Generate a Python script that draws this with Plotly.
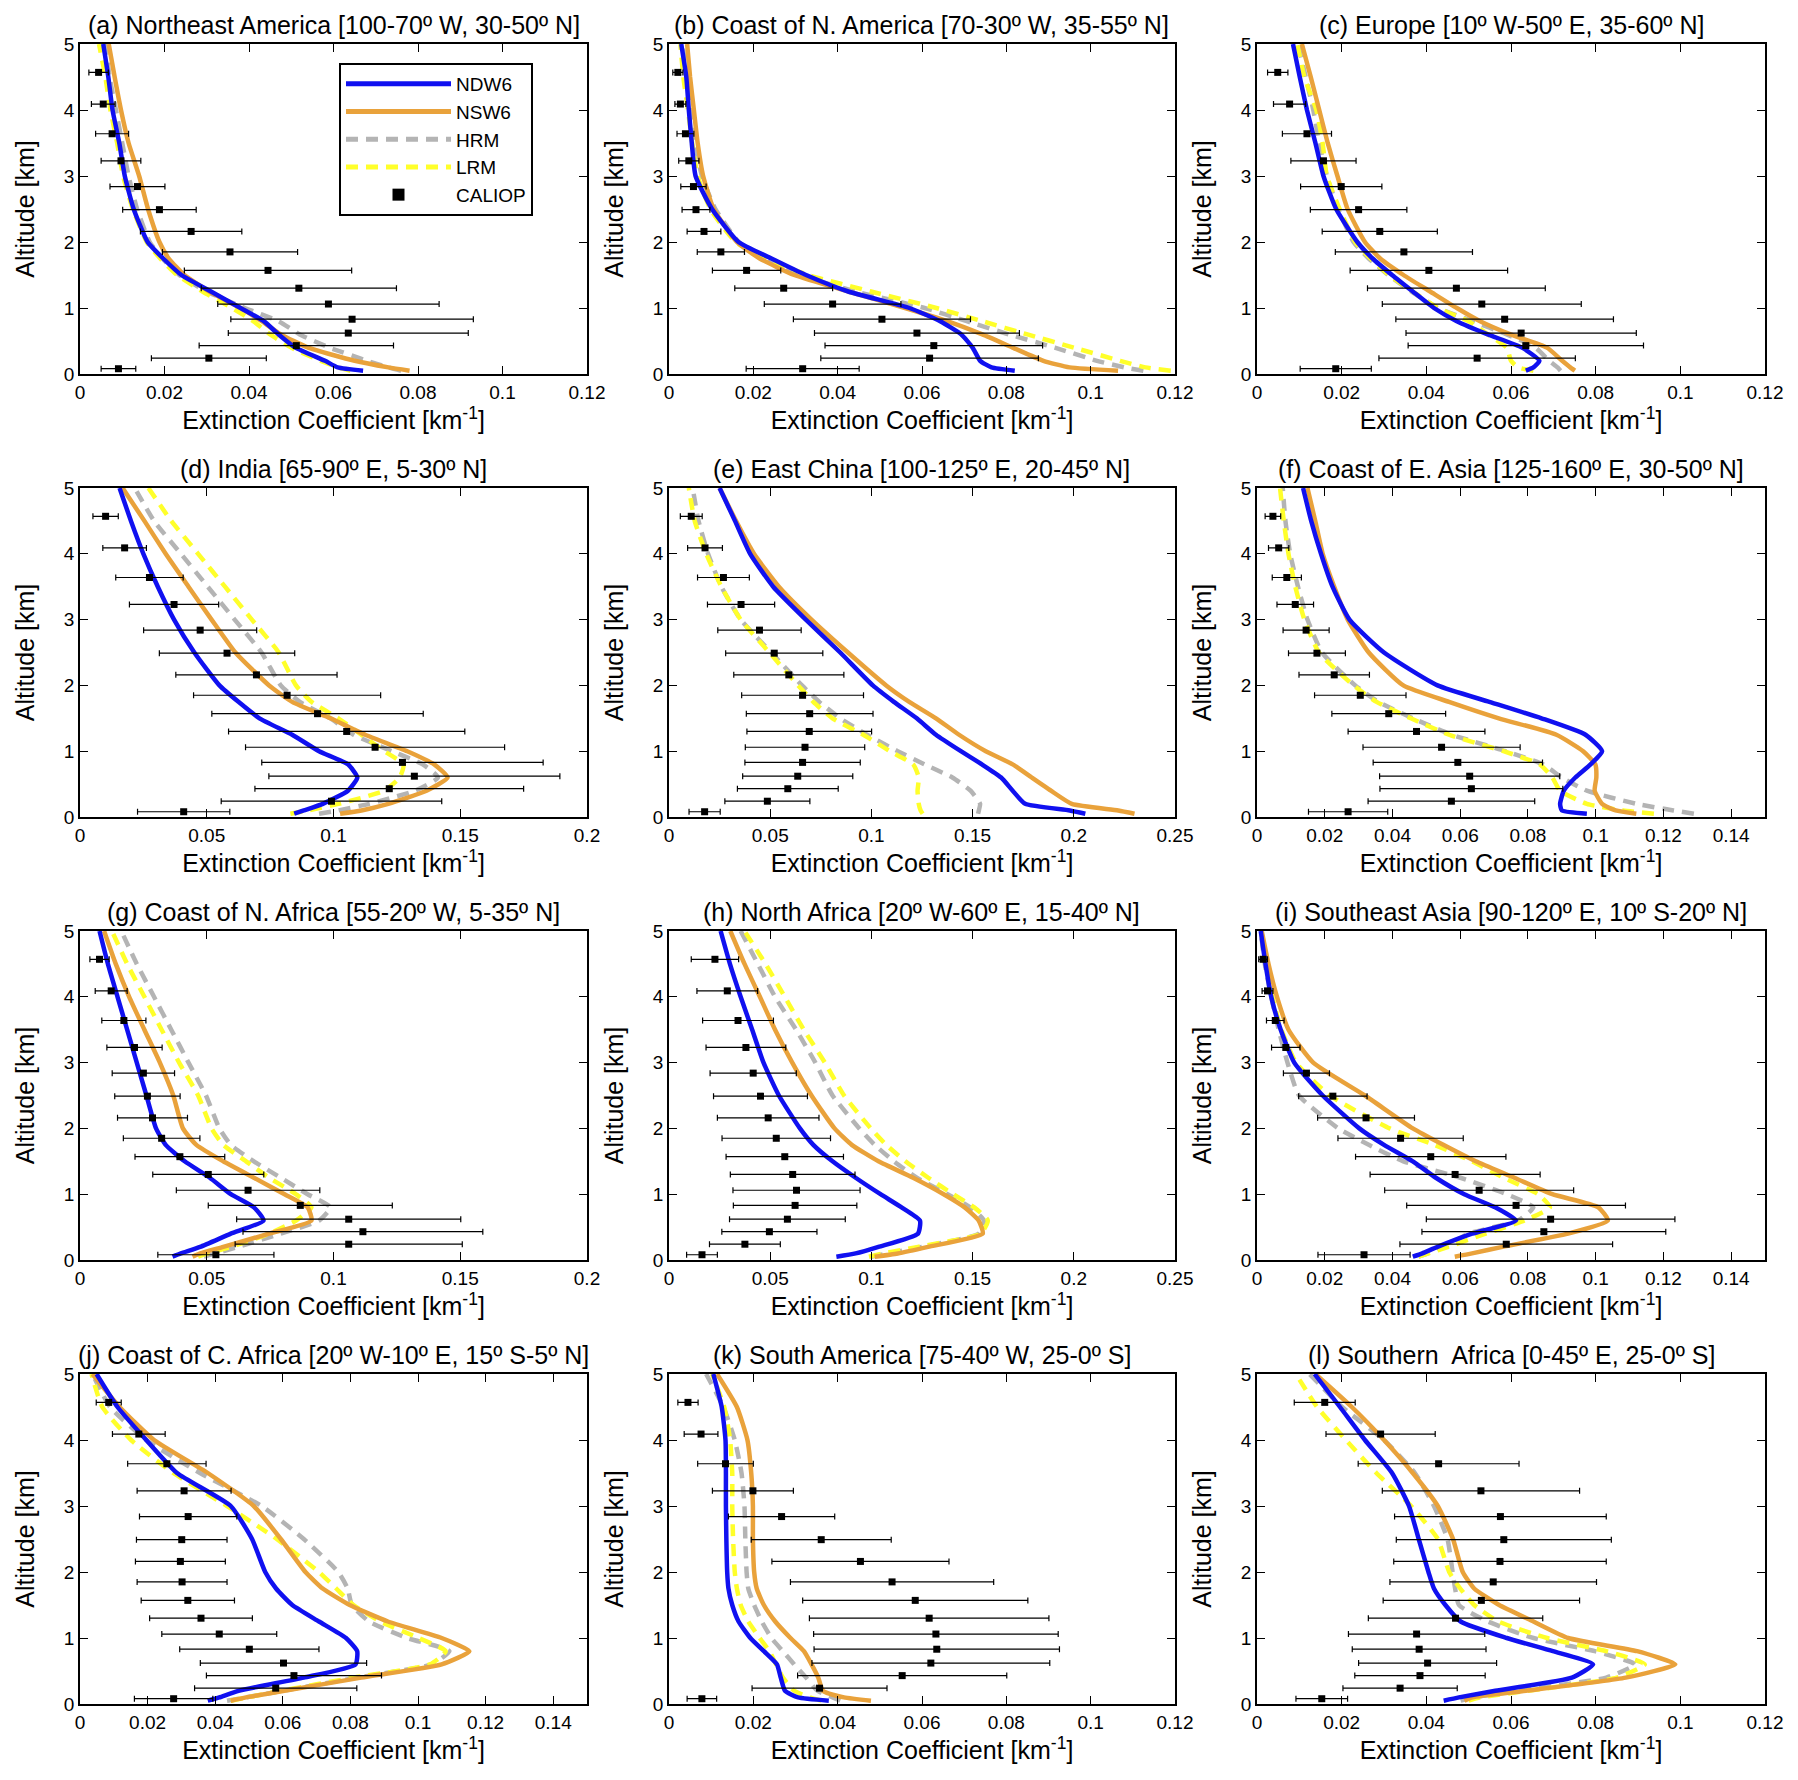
import plotly.graph_objects as go

# altitude grid of the model profiles [km], bottom -> top
ALT_MODEL = [0.05, 0.1, 0.2, 0.4, 0.6, 0.8, 1.0, 1.25, 1.5, 1.75, 2.0, 2.5, 3.0, 3.5, 4.0, 4.5, 5.0]
# CALIOP levels [km], top -> bottom
ALT_CALIOP = [4.57, 4.09, 3.64, 3.23, 2.84, 2.49, 2.16, 1.85, 1.57, 1.30, 1.06, 0.83, 0.62, 0.43, 0.24, 0.08]

# (a) Northeast America
ndw6_a = [0.067, 0.061, 0.058, 0.051, 0.047, 0.0435, 0.038, 0.031, 0.024, 0.0197, 0.016, 0.0127, 0.0106, 0.0093, 0.0077, 0.0067, 0.0055]
nsw6_a = [0.078, 0.073, 0.065, 0.054, 0.0475, 0.043, 0.038, 0.0306, 0.0247, 0.021, 0.0188, 0.0161, 0.014, 0.0115, 0.0097, 0.0082, 0.0068]
hrm_a = [0.076, 0.073, 0.068, 0.059, 0.052, 0.047, 0.039, 0.030, 0.0235, 0.0195, 0.0165, 0.0135, 0.0115, 0.0100, 0.0085, 0.007, 0.006]
lrm_a = [0.064, 0.061, 0.057, 0.050, 0.045, 0.041, 0.036, 0.029, 0.023, 0.019, 0.0158, 0.0125, 0.0102, 0.0088, 0.0072, 0.006, 0.0045]
caliop_a = [0.0044, 0.0055, 0.0076, 0.0097, 0.0136, 0.0188, 0.0263, 0.0355, 0.0445, 0.0518, 0.0588, 0.0644, 0.0635, 0.0512, 0.0305, 0.0091]
err_a = [0.0023, 0.0028, 0.0039, 0.0047, 0.0065, 0.0087, 0.012, 0.016, 0.0198, 0.0231, 0.0262, 0.0287, 0.0284, 0.023, 0.0136, 0.0041]

# (b) Coast of N. America
ndw6_b = [0.082, 0.0765, 0.0738, 0.072, 0.0693, 0.0643, 0.057, 0.0425, 0.0325, 0.0243, 0.0165, 0.0102, 0.0063, 0.0054, 0.0047, 0.0041, 0.0029]
nsw6_b = [0.1065, 0.095, 0.0888, 0.0815, 0.0743, 0.066, 0.056, 0.0425, 0.0297, 0.0215, 0.0161, 0.0106, 0.0081, 0.0068, 0.0059, 0.005, 0.0043]
hrm_b = [0.1125, 0.108, 0.1015, 0.0915, 0.0806, 0.0706, 0.0606, 0.0443, 0.031, 0.022, 0.0165, 0.011, 0.0078, 0.0062, 0.0052, 0.0042, 0.0032]
lrm_b = [0.119, 0.113, 0.107, 0.096, 0.085, 0.0743, 0.0634, 0.0479, 0.033, 0.023, 0.0158, 0.0098, 0.0068, 0.0055, 0.0045, 0.0034, 0.0027]
caliop_b = [0.0021, 0.0027, 0.0039, 0.0047, 0.0058, 0.0064, 0.0083, 0.0123, 0.0184, 0.0272, 0.0388, 0.0505, 0.0588, 0.0628, 0.0618, 0.0317]
err_b = [0.0012, 0.0013, 0.002, 0.0024, 0.003, 0.0033, 0.004, 0.0056, 0.0081, 0.0116, 0.0162, 0.021, 0.0243, 0.0258, 0.0258, 0.0134]

# (c) Europe
ndw6_c = [0.0635, 0.0653, 0.0667, 0.0626, 0.0545, 0.0472, 0.0418, 0.0368, 0.0319, 0.0273, 0.0237, 0.0187, 0.0157, 0.0138, 0.0118, 0.0101, 0.0085]
nsw6_c = [0.0751, 0.074, 0.0721, 0.0685, 0.0599, 0.0527, 0.0472, 0.0409, 0.0346, 0.0291, 0.0255, 0.0214, 0.019, 0.0167, 0.0147, 0.0127, 0.0106]
hrm_c = [0.0717, 0.071, 0.069, 0.0658, 0.059, 0.0509, 0.0427, 0.0365, 0.031, 0.0264, 0.0228, 0.0192, 0.0165, 0.0147, 0.0133, 0.0115, 0.0097]
lrm_c = [0.0653, 0.0617, 0.06, 0.059, 0.0545, 0.05, 0.0427, 0.0368, 0.0312, 0.0268, 0.0232, 0.0195, 0.0165, 0.0155, 0.014, 0.0112, 0.0095]
caliop_c = [0.0049, 0.0077, 0.0118, 0.0157, 0.0199, 0.024, 0.029, 0.0347, 0.0406, 0.0471, 0.0531, 0.0585, 0.0624, 0.0635, 0.052, 0.0186]
err_c = [0.0024, 0.0038, 0.0058, 0.0077, 0.0096, 0.0114, 0.0136, 0.0162, 0.0186, 0.021, 0.0235, 0.0257, 0.0272, 0.0278, 0.0232, 0.0084]

# (d) India
ndw6_d = [0.0845, 0.0883, 0.0958, 0.1057, 0.1094, 0.1057, 0.0943, 0.0837, 0.0708, 0.0625, 0.055, 0.0451, 0.0371, 0.0307, 0.025, 0.0201, 0.0156]
nsw6_d = [0.1026, 0.111, 0.1216, 0.1367, 0.145, 0.1397, 0.1291, 0.1125, 0.0988, 0.0837, 0.0746, 0.0613, 0.0519, 0.0428, 0.0338, 0.0254, 0.0168]
hrm_d = [0.0943, 0.1019, 0.114, 0.1322, 0.1412, 0.1352, 0.123, 0.1079, 0.0988, 0.0867, 0.0792, 0.0716, 0.061, 0.0504, 0.0398, 0.0292, 0.0216]
lrm_d = [0.083, 0.0898, 0.102, 0.12, 0.1261, 0.1276, 0.12, 0.111, 0.1019, 0.0913, 0.0852, 0.0784, 0.0678, 0.0572, 0.0466, 0.036, 0.027]
caliop_d = [0.0101, 0.0176, 0.0274, 0.0371, 0.0474, 0.058, 0.0696, 0.0817, 0.0937, 0.1052, 0.1164, 0.1272, 0.1319, 0.122, 0.0992, 0.0409]
err_d = [0.005, 0.0086, 0.0133, 0.0176, 0.0223, 0.0267, 0.0318, 0.0369, 0.0417, 0.0466, 0.0511, 0.0555, 0.0574, 0.053, 0.0435, 0.0182]

# (e) East China
ndw6_e = [0.2057, 0.198, 0.176, 0.1698, 0.1641, 0.1546, 0.1442, 0.1319, 0.1224, 0.1111, 0.1007, 0.0846, 0.0676, 0.0515, 0.0401, 0.0326, 0.025]
nsw6_e = [0.23, 0.222, 0.199, 0.1887, 0.1792, 0.1698, 0.1565, 0.1433, 0.1319, 0.1187, 0.1073, 0.0884, 0.0704, 0.0543, 0.042, 0.0331, 0.025]
hrm_e = [0.1527, 0.1531, 0.1537, 0.149, 0.140, 0.1262, 0.113, 0.0978, 0.0846, 0.0742, 0.0657, 0.0505, 0.0354, 0.0259, 0.0193, 0.0146, 0.0117]
lrm_e = [0.1253, 0.1243, 0.1234, 0.1228, 0.1234, 0.1206, 0.1092, 0.096, 0.0808, 0.0713, 0.0638, 0.0496, 0.0354, 0.0259, 0.0184, 0.0127, 0.0098]
caliop_e = [0.011, 0.0178, 0.0269, 0.0356, 0.0447, 0.052, 0.0592, 0.066, 0.0695, 0.0693, 0.0672, 0.066, 0.0636, 0.0587, 0.0486, 0.0176]
err_e = [0.0054, 0.0086, 0.0128, 0.0166, 0.0206, 0.024, 0.0272, 0.0301, 0.0313, 0.0308, 0.0295, 0.0285, 0.0272, 0.0249, 0.021, 0.0077]

# (f) Coast of E. Asia
ndw6_f = [0.0974, 0.09, 0.0895, 0.0906, 0.094, 0.0985, 0.1019, 0.097, 0.084, 0.0686, 0.0533, 0.0375, 0.0273, 0.0223, 0.0189, 0.016, 0.0136]
nsw6_f = [0.112, 0.1059, 0.1019, 0.0997, 0.1002, 0.0999, 0.0963, 0.0884, 0.0714, 0.0567, 0.0432, 0.033, 0.0268, 0.0228, 0.0194, 0.0172, 0.0149]
hrm_f = [0.129, 0.123, 0.112, 0.0974, 0.09, 0.0845, 0.0735, 0.0575, 0.046, 0.0358, 0.029, 0.0192, 0.0149, 0.0121, 0.0098, 0.0084, 0.0076]
lrm_f = [0.1172, 0.108, 0.0974, 0.0895, 0.0872, 0.0835, 0.0728, 0.0567, 0.0454, 0.0353, 0.0285, 0.0183, 0.014, 0.0113, 0.0093, 0.0079, 0.0068]
caliop_f = [0.0047, 0.0064, 0.0088, 0.0113, 0.0145, 0.0177, 0.0228, 0.0305, 0.0389, 0.0471, 0.0545, 0.0593, 0.0628, 0.0633, 0.0574, 0.0269]
err_f = [0.0023, 0.003, 0.0043, 0.0054, 0.0068, 0.0084, 0.0104, 0.0135, 0.0168, 0.0202, 0.0232, 0.025, 0.0266, 0.027, 0.0246, 0.0117]

# (g) Coast of N. Africa
ndw6_g = [0.0365, 0.0398, 0.0474, 0.0595, 0.0724, 0.0686, 0.0595, 0.0512, 0.0413, 0.0338, 0.03, 0.0262, 0.0224, 0.0186, 0.0148, 0.011, 0.0077]
nsw6_g = [0.0444, 0.0474, 0.0565, 0.0746, 0.0913, 0.0898, 0.0807, 0.0686, 0.0565, 0.0459, 0.0406, 0.0368, 0.0315, 0.0254, 0.0194, 0.0141, 0.0095]
hrm_g = [0.0489, 0.0534, 0.0625, 0.0792, 0.0943, 0.0988, 0.0898, 0.0792, 0.0686, 0.0595, 0.055, 0.0497, 0.0428, 0.036, 0.0292, 0.0224, 0.0163]
lrm_g = [0.0466, 0.0504, 0.0595, 0.0746, 0.0852, 0.0913, 0.0852, 0.0746, 0.0655, 0.0565, 0.0519, 0.0466, 0.0391, 0.0322, 0.0254, 0.0186, 0.0126]
caliop_g = [0.0077, 0.0123, 0.0173, 0.0215, 0.025, 0.0266, 0.0286, 0.0322, 0.0394, 0.0506, 0.0663, 0.0869, 0.106, 0.1116, 0.106, 0.0536]
err_g = [0.0038, 0.0063, 0.0087, 0.0109, 0.0123, 0.0129, 0.0138, 0.0151, 0.0177, 0.0219, 0.0283, 0.0363, 0.0442, 0.0473, 0.0448, 0.0229]

# (h) North Africa
ndw6_h = [0.0827, 0.0922, 0.1035, 0.123, 0.124, 0.1149, 0.1045, 0.0922, 0.0808, 0.0713, 0.0647, 0.0543, 0.0467, 0.0411, 0.0354, 0.0301, 0.0255]
nsw6_h = [0.1016, 0.113, 0.128, 0.155, 0.153, 0.1461, 0.1357, 0.1206, 0.1035, 0.0903, 0.0818, 0.0704, 0.0609, 0.0524, 0.0449, 0.0373, 0.0303]
hrm_h = [0.0997, 0.108, 0.125, 0.153, 0.1556, 0.1489, 0.1376, 0.1224, 0.1111, 0.1016, 0.094, 0.0808, 0.0723, 0.0628, 0.0524, 0.0439, 0.0354]
lrm_h = [0.0988, 0.106, 0.123, 0.154, 0.1575, 0.1508, 0.1404, 0.1281, 0.1168, 0.1073, 0.0997, 0.0865, 0.077, 0.0666, 0.0572, 0.0477, 0.0373]
caliop_h = [0.0227, 0.0288, 0.0341, 0.038, 0.0416, 0.0452, 0.049, 0.053, 0.0572, 0.0611, 0.063, 0.0623, 0.0585, 0.0496, 0.0375, 0.0163]
err_h = [0.0117, 0.015, 0.0175, 0.0197, 0.0213, 0.0232, 0.0251, 0.0268, 0.029, 0.0308, 0.0314, 0.0305, 0.0286, 0.0235, 0.0175, 0.0076]

# (i) Southeast Asia
ndw6_i = [0.046, 0.0488, 0.0533, 0.0635, 0.0765, 0.0703, 0.0612, 0.0528, 0.046, 0.0375, 0.0302, 0.0194, 0.011, 0.007, 0.0042, 0.0025, 0.0011]
nsw6_i = [0.0584, 0.0635, 0.0725, 0.0918, 0.1036, 0.1008, 0.0872, 0.076, 0.0646, 0.055, 0.046, 0.0319, 0.0166, 0.0093, 0.0059, 0.0034, 0.0014]
hrm_i = [0.0477, 0.0505, 0.0556, 0.0624, 0.0771, 0.0816, 0.0737, 0.0601, 0.0432, 0.033, 0.024, 0.0124, 0.009, 0.0064, 0.0042, 0.0023, 0.0011]
lrm_i = [0.0477, 0.0505, 0.0565, 0.0675, 0.079, 0.0865, 0.083, 0.0728, 0.0635, 0.0524, 0.0392, 0.0215, 0.0115, 0.0072, 0.0045, 0.0027, 0.0012]
caliop_i = [0.0018, 0.0031, 0.0054, 0.0085, 0.0146, 0.0224, 0.0322, 0.0424, 0.0513, 0.0585, 0.0656, 0.0765, 0.0867, 0.0847, 0.0736, 0.0316]
err_i = [0.0013, 0.0016, 0.0026, 0.0042, 0.0068, 0.0101, 0.0143, 0.0185, 0.0222, 0.0251, 0.0279, 0.0323, 0.0367, 0.036, 0.0314, 0.0136]

# (j) Coast of C. Africa
ndw6_j = [0.0378, 0.0412, 0.0469, 0.0662, 0.0815, 0.082, 0.0787, 0.0707, 0.0628, 0.058, 0.0548, 0.0509, 0.0446, 0.0287, 0.0196, 0.0111, 0.0049]
nsw6_j = [0.0446, 0.0491, 0.0605, 0.0832, 0.107, 0.1152, 0.107, 0.0911, 0.0798, 0.0718, 0.0667, 0.0594, 0.0514, 0.0378, 0.0219, 0.0117, 0.0037]
hrm_j = [0.0435, 0.049, 0.06, 0.082, 0.104, 0.1093, 0.0968, 0.0855, 0.0804, 0.0792, 0.0764, 0.0662, 0.0537, 0.0355, 0.0196, 0.0089, 0.0037]
lrm_j = [0.0446, 0.0495, 0.0595, 0.081, 0.1036, 0.1082, 0.1002, 0.0889, 0.0809, 0.0758, 0.0707, 0.0582, 0.0435, 0.0276, 0.0151, 0.0066, 0.0034]
caliop_j = [0.0085, 0.0174, 0.0257, 0.0308, 0.032, 0.0301, 0.0297, 0.0302, 0.0319, 0.0358, 0.0412, 0.0501, 0.0602, 0.0633, 0.0579, 0.0277]
err_j = [0.0037, 0.0078, 0.0116, 0.0139, 0.0144, 0.0134, 0.0133, 0.0133, 0.0138, 0.0152, 0.017, 0.0206, 0.0246, 0.0259, 0.024, 0.0116]

# (k) South America
ndw6_k = [0.0379, 0.0306, 0.0275, 0.0265, 0.0256, 0.0225, 0.0193, 0.0165, 0.015, 0.0141, 0.0138, 0.0136, 0.0135, 0.0135, 0.0134, 0.0125, 0.0105]
nsw6_k = [0.0479, 0.0415, 0.0365, 0.0354, 0.0338, 0.032, 0.0288, 0.0252, 0.0225, 0.0208, 0.0202, 0.0199, 0.0199, 0.0195, 0.0186, 0.0161, 0.0114]
hrm_k = [0.0406, 0.0388, 0.0352, 0.0325, 0.0297, 0.027, 0.0243, 0.022, 0.0202, 0.0188, 0.0184, 0.0181, 0.0179, 0.0172, 0.0156, 0.0129, 0.0088]
lrm_k = [0.0361, 0.0334, 0.0297, 0.027, 0.0254, 0.0238, 0.0215, 0.0188, 0.017, 0.0161, 0.0156, 0.0152, 0.015, 0.015, 0.0145, 0.0131, 0.0102]
caliop_k = [0.0045, 0.0076, 0.0134, 0.0199, 0.0267, 0.0361, 0.0454, 0.0529, 0.0584, 0.0617, 0.0633, 0.0635, 0.0621, 0.0553, 0.0357, 0.0078]
err_k = [0.0024, 0.004, 0.0066, 0.0096, 0.0126, 0.0166, 0.021, 0.0241, 0.0267, 0.0284, 0.029, 0.0291, 0.0282, 0.0248, 0.016, 0.0035]

# (l) Southern Africa
ndw6_l = [0.0441, 0.0477, 0.0563, 0.0744, 0.0794, 0.0699, 0.059, 0.0481, 0.0445, 0.0418, 0.0405, 0.0382, 0.0359, 0.0319, 0.0255, 0.0196, 0.0136]
nsw6_l = [0.049, 0.0509, 0.0635, 0.0871, 0.0988, 0.0898, 0.0735, 0.0653, 0.0572, 0.0513, 0.0486, 0.0463, 0.0427, 0.0368, 0.03, 0.0224, 0.0138]
hrm_l = [0.0481, 0.0509, 0.0617, 0.0825, 0.0893, 0.0798, 0.0653, 0.0545, 0.0477, 0.0468, 0.0462, 0.045, 0.0418, 0.0373, 0.03, 0.0201, 0.0124]
lrm_l = [0.05, 0.0527, 0.064, 0.085, 0.0916, 0.0825, 0.0685, 0.057, 0.0513, 0.048, 0.0454, 0.0427, 0.0364, 0.0282, 0.021, 0.0142, 0.0092]
caliop_l = [0.016, 0.0292, 0.0429, 0.0529, 0.0575, 0.0583, 0.0574, 0.0558, 0.053, 0.0469, 0.0377, 0.0383, 0.0403, 0.0385, 0.0338, 0.0153]
err_l = [0.0072, 0.0129, 0.019, 0.0233, 0.025, 0.0254, 0.0251, 0.0244, 0.0232, 0.0206, 0.0161, 0.0158, 0.0163, 0.0154, 0.0135, 0.0061]

TITLES = [
    "(a) Northeast America [100-70º W, 30-50º N]",
    "(b) Coast of N. America [70-30º W, 35-55º N]",
    "(c) Europe [10º W-50º E, 35-60º N]",
    "(d) India [65-90º E, 5-30º N]",
    "(e) East China [100-125º E, 20-45º N]",
    "(f) Coast of E. Asia [125-160º E, 30-50º N]",
    "(g) Coast of N. Africa [55-20º W, 5-35º N]",
    "(h) North Africa [20º W-60º E, 15-40º N]",
    "(i) Southeast Asia [90-120º E, 10º S-20º N]",
    "(j) Coast of C. Africa [20º W-10º E, 15º S-5º N]",
    "(k) South America [75-40º W, 25-0º S]",
    "(l) Southern  Africa [0-45º E, 25-0º S]",
]
X_MAX = [0.12, 0.12, 0.12, 0.2, 0.25, 0.15, 0.2, 0.25, 0.15, 0.15, 0.12, 0.12]
X_STEP = [0.02, 0.02, 0.02, 0.05, 0.05, 0.02, 0.05, 0.05, 0.02, 0.02, 0.02, 0.02]

PANELS = [
    dict(NDW6=ndw6_a, NSW6=nsw6_a, HRM=hrm_a, LRM=lrm_a, CALIOP=caliop_a, ERR=err_a),
    dict(NDW6=ndw6_b, NSW6=nsw6_b, HRM=hrm_b, LRM=lrm_b, CALIOP=caliop_b, ERR=err_b),
    dict(NDW6=ndw6_c, NSW6=nsw6_c, HRM=hrm_c, LRM=lrm_c, CALIOP=caliop_c, ERR=err_c),
    dict(NDW6=ndw6_d, NSW6=nsw6_d, HRM=hrm_d, LRM=lrm_d, CALIOP=caliop_d, ERR=err_d),
    dict(NDW6=ndw6_e, NSW6=nsw6_e, HRM=hrm_e, LRM=lrm_e, CALIOP=caliop_e, ERR=err_e),
    dict(NDW6=ndw6_f, NSW6=nsw6_f, HRM=hrm_f, LRM=lrm_f, CALIOP=caliop_f, ERR=err_f),
    dict(NDW6=ndw6_g, NSW6=nsw6_g, HRM=hrm_g, LRM=lrm_g, CALIOP=caliop_g, ERR=err_g),
    dict(NDW6=ndw6_h, NSW6=nsw6_h, HRM=hrm_h, LRM=lrm_h, CALIOP=caliop_h, ERR=err_h),
    dict(NDW6=ndw6_i, NSW6=nsw6_i, HRM=hrm_i, LRM=lrm_i, CALIOP=caliop_i, ERR=err_i),
    dict(NDW6=ndw6_j, NSW6=nsw6_j, HRM=hrm_j, LRM=lrm_j, CALIOP=caliop_j, ERR=err_j),
    dict(NDW6=ndw6_k, NSW6=nsw6_k, HRM=hrm_k, LRM=lrm_k, CALIOP=caliop_k, ERR=err_k),
    dict(NDW6=ndw6_l, NSW6=nsw6_l, HRM=hrm_l, LRM=lrm_l, CALIOP=caliop_l, ERR=err_l),
]

# page geometry in pixels; the html body adds an 8 px margin, so the figure
# is 8 px smaller and everything is placed 8 px up/left of the target
PAGE_PAD = 8
W, H = 1798 - PAGE_PAD, 1780 - PAGE_PAD
COL_PX = [(80, 587), (669, 1175), (1257, 1765)]
ROW_PX = [(44, 374), (488, 817), (931, 1260), (1374, 1704)]

FONT = "Liberation Sans, Arial, Helvetica, sans-serif"
LINES = {
    "HRM": dict(color="#B4B4B4", width=4.5, dash="12px,8px"),
    "LRM": dict(color="#FFFF2A", width=4.5, dash="12px,8px"),
    "NSW6": dict(color="#E9A23B", width=4.5),
    "NDW6": dict(color="#1010F0", width=4.5),
}
RANK = {"NDW6": 1, "NSW6": 2, "HRM": 3, "LRM": 4, "CALIOP": 5}


def fx(px):
    return (px - PAGE_PAD) / W


def fy(px):
    return 1 - (px - PAGE_PAD) / H


fig = go.Figure()
layout = dict(
    width=W, height=H,
    margin=dict(l=0, r=0, t=0, b=0),
    paper_bgcolor="white", plot_bgcolor="white",
    font=dict(family=FONT, color="black", size=19),
    legend=dict(
        x=fx(339), y=fy(63), xanchor="left", yanchor="top",
        bordercolor="black", borderwidth=2, bgcolor="white",
        font=dict(size=19), itemwidth=105, tracegroupgap=0,
        itemsizing="constant",
    ),
    annotations=[],
)

for i, panel in enumerate(PANELS):
    n = i + 1
    row, col = divmod(i, 3)
    x0, x1 = COL_PX[col]
    y0, y1 = ROW_PX[row]
    xa, ya = "x%d" % n, "y%d" % n

    for name in ["HRM", "LRM", "NSW6", "NDW6"]:
        fig.add_trace(go.Scatter(
            x=panel[name], y=ALT_MODEL, mode="lines", name=name,
            line=dict(shape="spline", smoothing=0.5, **LINES[name]),
            xaxis=xa, yaxis=ya, showlegend=(i == 0), legendrank=RANK[name],
            legendgroup=name,
        ))
    fig.add_trace(go.Scatter(
        x=panel["CALIOP"], y=ALT_CALIOP, mode="markers", name="CALIOP",
        marker=dict(symbol="square", size=7, color="black"),
        error_x=dict(type="data", array=panel["ERR"], color="black", thickness=1.2, width=3),
        xaxis=xa, yaxis=ya, showlegend=(i == 0), legendrank=RANK["CALIOP"],
        legendgroup="CALIOP",
    ))

    step = X_STEP[i]
    xticks = [round(k * step, 4) for k in range(int(X_MAX[i] / step + 1e-6) + 1)]
    axis_common = dict(
        ticks="inside", ticklen=8, tickwidth=1, tickcolor="black",
        mirror="allticks", showline=True, linecolor="black", linewidth=1.5,
        showgrid=False, zeroline=False, automargin=False,
        tickfont=dict(size=19),
    )
    layout["xaxis%d" % n] = dict(
        domain=[fx(x0), fx(x1)], anchor=ya, range=[0, X_MAX[i]],
        tickmode="array", tickvals=xticks, ticktext=["%g" % v for v in xticks],
        title=dict(text="Extinction Coefficient [km<sup>-1</sup>]", font=dict(size=25), standoff=8),
        **axis_common,
    )
    layout["yaxis%d" % n] = dict(
        domain=[fy(y1), fy(y0)], anchor=xa, range=[0, 5],
        tickmode="array", tickvals=[0, 1, 2, 3, 4, 5],
        title=dict(text="Altitude [km]", font=dict(size=25), standoff=22),
        **axis_common,
    )
    layout["annotations"].append(dict(
        text=TITLES[i], xref="paper", yref="paper",
        x=(fx(x0) + fx(x1)) / 2, y=fy(y0), xanchor="center", yanchor="bottom",
        yshift=3, showarrow=False, font=dict(size=25),
    ))

fig.update_layout(**layout)
fig.write_html("out.html")
